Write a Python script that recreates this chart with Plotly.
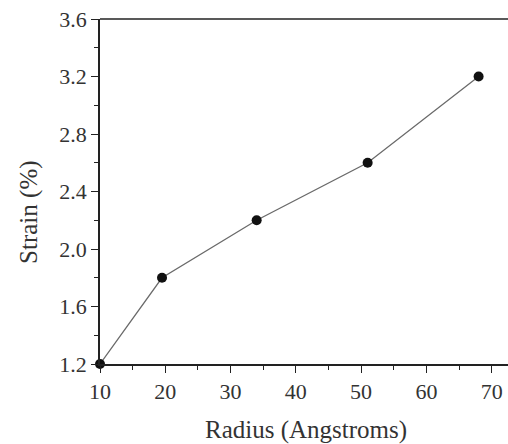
import plotly.graph_objects as go

radius = [10, 19.5, 34, 51, 68]
strain = [1.2, 1.8, 2.2, 2.6, 3.2]
x_ticks = [10, 20, 30, 40, 50, 60, 70]
y_ticks = [1.2, 1.6, 2.0, 2.4, 2.8, 3.2, 3.6]
y_tick_text = ["1.2", "1.6", "2.0", "2.4", "2.8", "3.2", "3.6"]

font = "Liberation Serif, Times New Roman, serif"

fig = go.Figure()
fig.add_trace(go.Scatter(
    x=radius, y=strain, mode="lines+markers",
    line=dict(color="#6a6a6a", width=1.3),
    marker=dict(color="#111111", size=10),
    cliponaxis=False,
))

axis_common = dict(
    showgrid=False, zeroline=False, showline=True, linecolor="#222222", linewidth=1.5,
    ticks="outside", ticklen=7, tickwidth=1.2, tickcolor="#222222",
    tickfont=dict(family=font, size=22, color="#333333"),
    automargin=False, ticklabeloverflow="allow",
)

fig.update_xaxes(
    range=[10, 72.5], tickvals=x_ticks,
    minor=dict(ticks="outside", ticklen=4, tickwidth=1.2, tickcolor="#222222", dtick=5, tick0=0),
    **axis_common,
)
fig.update_yaxes(
    range=[1.2, 3.6], tickvals=y_ticks, ticktext=y_tick_text,
    minor=dict(ticks="outside", ticklen=4, tickwidth=1.2, tickcolor="#222222", dtick=0.2, tick0=0),
    **axis_common,
)

fig.add_shape(type="line", xref="paper", yref="paper", x0=0, x1=1, y0=1, y1=1,
              line=dict(color="#222222", width=1.5))

fig.add_annotation(text="Radius (Angstroms)", xref="paper", yref="paper",
                   x=0.505, y=-0.19, xanchor="center", yanchor="middle", showarrow=False,
                   font=dict(family=font, size=25, color="#333333"))
fig.add_annotation(text="Strain (%)", xref="paper", yref="paper",
                   x=-0.174, y=0.438, xanchor="center", yanchor="middle", showarrow=False,
                   textangle=-90, font=dict(family=font, size=25, color="#333333"))

fig.update_layout(
    width=508, height=444,
    margin=dict(l=100, r=0, t=19, b=80),
    paper_bgcolor="white", plot_bgcolor="white",
    showlegend=False,
)

fig.write_html(
    "out.html",
    config={"displayModeBar": False},
    post_script="document.body.style.margin='0';document.body.style.overflow='hidden';",
)
